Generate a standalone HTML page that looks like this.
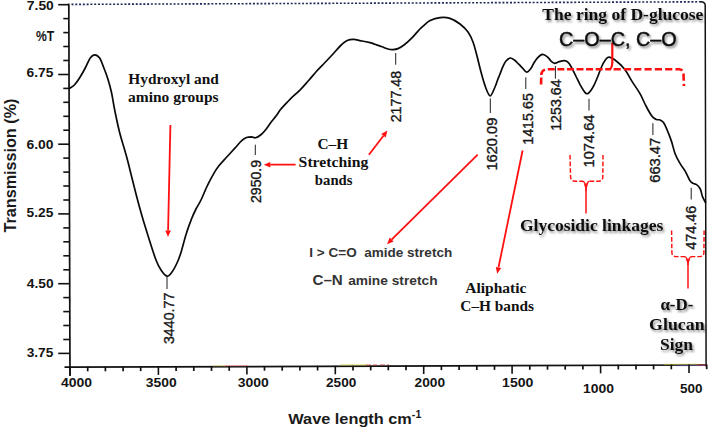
<!DOCTYPE html>
<html><head><meta charset="utf-8"><style>
html,body{margin:0;padding:0;background:#fff;}
body{width:708px;height:430px;overflow:hidden;}
svg{display:block;}
</style></head><body>
<svg width="708" height="430" viewBox="0 0 708 430">
<defs><filter id="sh" x="-10%" y="-30%" width="130%" height="180%"><feDropShadow dx="1.5" dy="2" stdDeviation="1.2" flood-color="#000" flood-opacity="0.45"/></filter></defs>
<rect width="708" height="430" fill="#fff"/>
<line x1="71.5" y1="4.4" x2="702.0" y2="1.8" stroke="#1a2858" stroke-width="1.60" stroke-dasharray="2 1.78"/>
<path d="M700.5,1.8 Q705.2,1.9 705.2,5.5 L706.1,366.5" fill="none" stroke="#111" stroke-width="1.5"/>
<line x1="68.8" y1="3.4" x2="70.0" y2="376.0" stroke="#111" stroke-width="1.70" />
<line x1="64.5" y1="367.2" x2="707.0" y2="365.0" stroke="#111" stroke-width="1.70" />
<line x1="213.0" y1="365.8" x2="226.0" y2="365.8" stroke="#e8d060" stroke-width="0.90" stroke-opacity="0.65"/>
<line x1="224.0" y1="365.8" x2="248.0" y2="365.7" stroke="#f07070" stroke-width="0.90" stroke-opacity="0.65"/>
<line x1="340.0" y1="364.9" x2="367.0" y2="364.8" stroke="#d4cc20" stroke-width="1.00" stroke-opacity="0.65"/>
<line x1="366.0" y1="364.9" x2="389.0" y2="364.8" stroke="#e03030" stroke-width="1.00" stroke-dasharray="5 2 4 3" stroke-opacity="0.65"/>
<line x1="664.0" y1="364.3" x2="698.0" y2="364.2" stroke="#ccc020" stroke-width="0.90" stroke-opacity="0.65"/>
<line x1="676.5" y1="365.7" x2="705.4" y2="365.5" stroke="#4040c0" stroke-width="0.80" stroke-opacity="0.65"/>
<line x1="697.0" y1="365.0" x2="706.0" y2="365.0" stroke="#e02020" stroke-width="1.00" stroke-opacity="0.65"/>
<line x1="58.2" y1="4.7" x2="68.8" y2="4.7" stroke="#111" stroke-width="1.60" />
<line x1="63.3" y1="18.6" x2="68.8" y2="18.6" stroke="#111" stroke-width="1.60" />
<line x1="63.3" y1="32.6" x2="68.9" y2="32.6" stroke="#111" stroke-width="1.60" />
<line x1="63.3" y1="46.5" x2="68.9" y2="46.5" stroke="#111" stroke-width="1.60" />
<line x1="63.3" y1="60.5" x2="69.0" y2="60.5" stroke="#111" stroke-width="1.60" />
<line x1="58.2" y1="74.5" x2="69.0" y2="74.5" stroke="#111" stroke-width="1.60" />
<line x1="63.3" y1="88.4" x2="69.1" y2="88.4" stroke="#111" stroke-width="1.60" />
<line x1="63.3" y1="102.3" x2="69.1" y2="102.3" stroke="#111" stroke-width="1.60" />
<line x1="63.3" y1="116.3" x2="69.2" y2="116.3" stroke="#111" stroke-width="1.60" />
<line x1="63.3" y1="130.2" x2="69.2" y2="130.2" stroke="#111" stroke-width="1.60" />
<line x1="58.2" y1="144.2" x2="69.3" y2="144.2" stroke="#111" stroke-width="1.60" />
<line x1="63.3" y1="158.1" x2="69.3" y2="158.1" stroke="#111" stroke-width="1.60" />
<line x1="63.3" y1="172.1" x2="69.3" y2="172.1" stroke="#111" stroke-width="1.60" />
<line x1="63.3" y1="186.0" x2="69.4" y2="186.0" stroke="#111" stroke-width="1.60" />
<line x1="63.3" y1="200.0" x2="69.4" y2="200.0" stroke="#111" stroke-width="1.60" />
<line x1="58.2" y1="213.9" x2="69.5" y2="213.9" stroke="#111" stroke-width="1.60" />
<line x1="63.3" y1="227.9" x2="69.5" y2="227.9" stroke="#111" stroke-width="1.60" />
<line x1="63.3" y1="241.8" x2="69.6" y2="241.8" stroke="#111" stroke-width="1.60" />
<line x1="63.3" y1="255.8" x2="69.6" y2="255.8" stroke="#111" stroke-width="1.60" />
<line x1="63.3" y1="269.8" x2="69.7" y2="269.8" stroke="#111" stroke-width="1.60" />
<line x1="58.2" y1="283.7" x2="69.7" y2="283.7" stroke="#111" stroke-width="1.60" />
<line x1="63.3" y1="297.6" x2="69.7" y2="297.6" stroke="#111" stroke-width="1.60" />
<line x1="63.3" y1="311.6" x2="69.8" y2="311.6" stroke="#111" stroke-width="1.60" />
<line x1="63.3" y1="325.5" x2="69.8" y2="325.5" stroke="#111" stroke-width="1.60" />
<line x1="63.3" y1="339.5" x2="69.9" y2="339.5" stroke="#111" stroke-width="1.60" />
<line x1="58.2" y1="353.4" x2="69.9" y2="353.4" stroke="#111" stroke-width="1.60" />
<line x1="70.0" y1="366.7" x2="70.0" y2="375.2" stroke="#111" stroke-width="1.60" />
<line x1="87.7" y1="366.6" x2="87.7" y2="371.3" stroke="#111" stroke-width="1.70" />
<line x1="105.4" y1="366.6" x2="105.4" y2="371.3" stroke="#111" stroke-width="1.70" />
<line x1="123.1" y1="366.5" x2="123.1" y2="371.2" stroke="#111" stroke-width="1.70" />
<line x1="140.7" y1="366.4" x2="140.7" y2="371.1" stroke="#111" stroke-width="1.70" />
<line x1="158.4" y1="366.4" x2="158.4" y2="374.9" stroke="#111" stroke-width="1.60" />
<line x1="176.1" y1="366.3" x2="176.1" y2="371.0" stroke="#111" stroke-width="1.70" />
<line x1="193.8" y1="366.3" x2="193.8" y2="371.0" stroke="#111" stroke-width="1.70" />
<line x1="211.5" y1="366.2" x2="211.5" y2="370.9" stroke="#111" stroke-width="1.70" />
<line x1="229.2" y1="366.1" x2="229.2" y2="370.8" stroke="#111" stroke-width="1.70" />
<line x1="246.9" y1="366.1" x2="246.9" y2="374.6" stroke="#111" stroke-width="1.60" />
<line x1="264.5" y1="366.0" x2="264.5" y2="370.7" stroke="#111" stroke-width="1.70" />
<line x1="282.2" y1="366.0" x2="282.2" y2="370.7" stroke="#111" stroke-width="1.70" />
<line x1="299.9" y1="365.9" x2="299.9" y2="370.6" stroke="#111" stroke-width="1.70" />
<line x1="317.6" y1="365.8" x2="317.6" y2="370.5" stroke="#111" stroke-width="1.70" />
<line x1="335.3" y1="365.8" x2="335.3" y2="374.3" stroke="#111" stroke-width="1.60" />
<line x1="353.0" y1="365.7" x2="353.0" y2="370.4" stroke="#111" stroke-width="1.70" />
<line x1="370.7" y1="365.7" x2="370.7" y2="370.4" stroke="#111" stroke-width="1.70" />
<line x1="388.3" y1="365.6" x2="388.3" y2="370.3" stroke="#111" stroke-width="1.70" />
<line x1="406.0" y1="365.5" x2="406.0" y2="370.2" stroke="#111" stroke-width="1.70" />
<line x1="423.7" y1="365.5" x2="423.7" y2="374.0" stroke="#111" stroke-width="1.60" />
<line x1="441.4" y1="365.4" x2="441.4" y2="370.1" stroke="#111" stroke-width="1.70" />
<line x1="459.1" y1="365.3" x2="459.1" y2="370.0" stroke="#111" stroke-width="1.70" />
<line x1="476.8" y1="365.3" x2="476.8" y2="370.0" stroke="#111" stroke-width="1.70" />
<line x1="494.5" y1="365.2" x2="494.5" y2="369.9" stroke="#111" stroke-width="1.70" />
<line x1="512.1" y1="365.2" x2="512.1" y2="373.7" stroke="#111" stroke-width="1.60" />
<line x1="529.8" y1="365.1" x2="529.8" y2="369.8" stroke="#111" stroke-width="1.70" />
<line x1="547.5" y1="365.0" x2="547.5" y2="369.7" stroke="#111" stroke-width="1.70" />
<line x1="565.2" y1="365.0" x2="565.2" y2="369.7" stroke="#111" stroke-width="1.70" />
<line x1="582.9" y1="364.9" x2="582.9" y2="369.6" stroke="#111" stroke-width="1.70" />
<line x1="600.6" y1="364.9" x2="600.6" y2="373.4" stroke="#111" stroke-width="1.60" />
<line x1="618.3" y1="364.8" x2="618.3" y2="369.5" stroke="#111" stroke-width="1.70" />
<line x1="636.0" y1="364.7" x2="636.0" y2="369.4" stroke="#111" stroke-width="1.70" />
<line x1="653.6" y1="364.7" x2="653.6" y2="369.4" stroke="#111" stroke-width="1.70" />
<line x1="671.3" y1="364.6" x2="671.3" y2="369.3" stroke="#111" stroke-width="1.70" />
<line x1="689.0" y1="364.6" x2="689.0" y2="373.1" stroke="#111" stroke-width="1.60" />
<line x1="706.7" y1="364.5" x2="706.7" y2="369.2" stroke="#111" stroke-width="1.70" />
<text x="26.88" y="10.00" font-family="'Liberation Sans', sans-serif" font-size="12.90" font-weight="bold" fill="#141414" textLength="26.89" lengthAdjust="spacingAndGlyphs" >7.50</text>
<text x="26.52" y="76.50" font-family="'Liberation Sans', sans-serif" font-size="12.90" font-weight="bold" fill="#141414" textLength="26.85" lengthAdjust="spacingAndGlyphs" >6.75</text>
<text x="26.51" y="148.50" font-family="'Liberation Sans', sans-serif" font-size="12.90" font-weight="bold" fill="#141414" textLength="27.06" lengthAdjust="spacingAndGlyphs" >6.00</text>
<text x="26.59" y="216.70" font-family="'Liberation Sans', sans-serif" font-size="12.90" font-weight="bold" fill="#141414" textLength="26.77" lengthAdjust="spacingAndGlyphs" >5.25</text>
<text x="26.79" y="288.40" font-family="'Liberation Sans', sans-serif" font-size="12.90" font-weight="bold" fill="#141414" textLength="26.77" lengthAdjust="spacingAndGlyphs" >4.50</text>
<text x="26.66" y="356.90" font-family="'Liberation Sans', sans-serif" font-size="12.90" font-weight="bold" fill="#141414" textLength="26.70" lengthAdjust="spacingAndGlyphs" >3.75</text>
<text x="35.90" y="40.80" font-family="'Liberation Sans', sans-serif" font-size="13.80" font-weight="bold" fill="#141414" textLength="18.23" lengthAdjust="spacingAndGlyphs" >%T</text>
<text x="60.99" y="387.20" font-family="'Liberation Sans', sans-serif" font-size="13.10" font-weight="bold" fill="#141414" textLength="31.06" lengthAdjust="spacingAndGlyphs" >4000</text>
<text x="145.85" y="387.10" font-family="'Liberation Sans', sans-serif" font-size="13.10" font-weight="bold" fill="#141414" textLength="30.90" lengthAdjust="spacingAndGlyphs" >3500</text>
<text x="237.65" y="387.10" font-family="'Liberation Sans', sans-serif" font-size="13.10" font-weight="bold" fill="#141414" textLength="31.10" lengthAdjust="spacingAndGlyphs" >3000</text>
<text x="326.02" y="387.10" font-family="'Liberation Sans', sans-serif" font-size="13.10" font-weight="bold" fill="#141414" textLength="30.32" lengthAdjust="spacingAndGlyphs" >2500</text>
<text x="414.52" y="387.10" font-family="'Liberation Sans', sans-serif" font-size="13.10" font-weight="bold" fill="#141414" textLength="30.52" lengthAdjust="spacingAndGlyphs" >2000</text>
<text x="502.09" y="387.20" font-family="'Liberation Sans', sans-serif" font-size="13.10" font-weight="bold" fill="#141414" textLength="31.27" lengthAdjust="spacingAndGlyphs" >1500</text>
<text x="583.10" y="393.00" font-family="'Liberation Sans', sans-serif" font-size="13.10" font-weight="bold" fill="#141414" textLength="30.96" lengthAdjust="spacingAndGlyphs" >1000</text>
<text x="680.10" y="392.80" font-family="'Liberation Sans', sans-serif" font-size="13.10" font-weight="bold" fill="#141414" textLength="22.49" lengthAdjust="spacingAndGlyphs" >500</text>
<text transform="translate(15.8,232.5) rotate(-90)" font-family="'Liberation Sans', sans-serif" font-size="16" font-weight="bold" fill="#1a1a1a" textLength="133.9" lengthAdjust="spacingAndGlyphs">Transmission (%)</text>
<text x="288.3" y="423.7" font-family="'Liberation Sans', sans-serif" font-size="15.4" font-weight="bold" fill="#1a1a1a" textLength="133" lengthAdjust="spacingAndGlyphs">Wave length cm<tspan font-size="10" dy="-5.5">-1</tspan></text>
<path d="M69.3,88.5 C70.2,87.9 72.6,86.9 74.4,85.0 C76.2,83.1 78.2,80.2 80.0,77.3 C81.8,74.4 83.8,70.8 85.5,67.5 C87.2,64.2 88.9,59.9 90.4,57.8 C91.9,55.7 93.1,54.8 94.6,54.8 C96.1,54.8 98.0,55.7 99.5,57.8 C101.0,59.9 102.3,64.0 103.7,67.5 C105.1,71.0 106.5,74.5 107.8,78.7 C109.1,82.9 110.4,87.6 111.5,92.5 C112.6,97.4 113.0,101.4 114.3,108.0 C115.6,114.6 117.7,124.8 119.5,132.0 C121.3,139.2 123.6,146.0 125.0,151.0 C126.4,156.0 126.2,154.8 128.0,162.0 C129.8,169.2 133.7,185.0 136.0,194.0 C138.3,203.0 139.7,208.0 142.0,216.0 C144.3,224.0 147.7,234.7 150.0,242.0 C152.3,249.3 154.2,255.3 156.0,260.0 C157.8,264.7 159.2,267.3 161.0,270.0 C162.8,272.7 165.2,275.9 167.0,276.2 C168.8,276.5 170.3,274.2 172.0,272.0 C173.7,269.8 175.5,266.2 177.0,263.0 C178.5,259.8 179.4,257.6 180.9,252.8 C182.4,248.0 184.4,239.6 186.2,234.0 C187.9,228.4 189.8,223.5 191.4,219.3 C193.0,215.1 194.4,212.2 196.0,209.0 C197.6,205.8 199.1,203.9 201.0,200.0 C202.9,196.1 205.3,189.9 207.5,185.4 C209.7,180.9 212.1,176.5 214.0,173.2 C215.9,169.9 217.0,168.2 218.9,165.8 C220.8,163.4 222.7,161.5 225.4,158.5 C228.1,155.5 232.4,150.9 235.1,147.9 C237.8,144.9 239.8,142.3 241.7,140.6 C243.6,138.9 244.9,138.1 246.5,137.5 C248.1,136.9 249.9,136.8 251.4,136.8 C252.9,136.9 253.9,138.2 255.5,137.8 C257.1,137.4 259.4,136.0 261.2,134.5 C263.0,133.0 264.7,131.0 266.3,129.0 C267.9,127.0 269.4,124.5 271.0,122.3 C272.6,120.1 274.4,118.1 276.0,116.0 C277.6,113.9 279.1,111.4 280.5,109.6 C281.9,107.8 282.9,106.9 284.5,105.2 C286.1,103.5 287.4,101.9 290.0,99.3 C292.6,96.7 297.1,92.9 300.2,89.8 C303.3,86.7 305.7,83.8 308.4,80.8 C311.1,77.8 313.6,74.5 316.3,71.5 C319.0,68.5 321.7,65.9 324.5,63.0 C327.3,60.1 330.3,56.9 333.0,54.0 C335.7,51.1 338.3,47.7 340.7,45.5 C343.1,43.3 345.0,41.6 347.2,40.6 C349.4,39.6 351.2,39.3 353.7,39.4 C356.1,39.5 359.2,40.5 361.9,41.0 C364.6,41.5 367.9,42.2 370.0,42.7 C372.1,43.2 372.8,43.5 374.8,44.2 C376.8,44.9 379.8,46.0 382.0,46.8 C384.2,47.6 386.2,48.5 388.0,49.0 C389.8,49.5 391.3,49.7 393.0,49.6 C394.7,49.5 396.2,49.4 398.0,48.6 C399.8,47.8 401.6,46.8 404.0,45.0 C406.4,43.2 409.8,40.2 412.2,37.7 C414.6,35.2 416.9,32.2 418.7,30.3 C420.5,28.4 420.9,27.9 422.8,26.3 C424.7,24.7 427.2,22.1 430.1,20.6 C433.0,19.2 436.7,18.0 440.0,17.6 C443.3,17.2 446.7,17.3 450.0,18.4 C453.3,19.5 457.0,21.7 460.0,24.0 C463.0,26.3 465.8,29.0 468.0,32.0 C470.2,35.0 471.5,38.0 473.0,42.0 C474.5,46.0 475.7,51.0 477.0,56.0 C478.3,61.0 479.6,66.8 481.0,72.0 C482.4,77.2 484.0,83.0 485.5,87.0 C487.0,91.0 488.6,95.8 490.2,95.8 C491.8,95.8 493.8,89.5 495.0,87.0 C496.2,84.5 496.6,82.7 497.4,80.5 C498.2,78.3 499.1,76.3 500.0,74.0 C500.9,71.7 501.9,68.8 502.9,66.7 C503.9,64.6 504.6,62.8 505.8,61.3 C507.0,59.8 508.8,58.2 510.3,58.0 C511.8,57.8 513.3,59.3 514.7,60.3 C516.1,61.3 517.4,62.9 518.7,64.2 C520.0,65.5 521.3,66.9 522.6,68.2 C523.9,69.5 525.3,72.1 526.6,72.2 C527.9,72.3 529.5,70.2 530.6,68.8 C531.8,67.4 532.4,65.5 533.5,63.7 C534.6,61.9 536.0,59.4 537.5,57.8 C539.0,56.2 540.8,54.5 542.4,54.3 C544.0,54.1 545.9,55.6 547.4,56.8 C548.9,58.0 550.1,60.2 551.3,61.3 C552.5,62.4 553.5,63.2 554.8,63.3 C556.1,63.3 557.7,62.0 559.3,61.6 C560.9,61.2 563.0,60.5 564.5,60.7 C566.0,60.9 567.3,61.5 568.6,62.8 C569.9,64.1 570.9,66.5 572.1,68.6 C573.3,70.7 574.2,72.9 575.6,75.6 C577.0,78.3 578.7,82.1 580.2,84.9 C581.8,87.7 583.7,90.9 584.9,92.4 C586.1,93.9 586.5,94.0 587.5,93.7 C588.5,93.4 589.6,92.2 590.7,90.7 C591.8,89.2 593.0,87.2 594.2,84.9 C595.4,82.6 596.5,79.7 597.7,76.7 C598.9,73.7 600.3,69.7 601.5,67.0 C602.7,64.3 603.8,62.1 605.0,60.5 C606.2,58.9 607.1,57.3 608.8,57.2 C610.5,57.1 612.4,58.0 615.0,60.0 C617.6,62.0 621.7,65.4 624.5,69.0 C627.3,72.6 629.4,77.3 632.0,81.4 C634.6,85.5 637.7,89.6 640.0,93.7 C642.3,97.8 644.0,102.2 646.0,106.0 C648.0,109.8 650.3,114.0 652.0,116.3 C653.7,118.5 655.0,118.9 656.4,119.5 C657.8,120.1 658.9,119.4 660.2,120.0 C661.5,120.6 662.8,121.3 664.0,123.2 C665.2,125.1 666.5,128.4 667.7,131.4 C669.0,134.4 670.2,137.6 671.5,141.4 C672.8,145.2 673.7,150.2 675.2,154.0 C676.7,157.8 678.6,161.0 680.3,163.9 C682.0,166.8 683.7,168.7 685.3,171.4 C686.9,174.1 688.5,178.2 689.7,180.2 C691.0,182.2 691.6,182.6 692.8,183.3 C693.9,184.0 695.4,183.7 696.6,184.6 C697.9,185.5 699.3,187.0 700.3,189.0 C701.3,191.0 701.6,194.3 702.5,196.6 C703.4,198.8 705.0,201.5 705.5,202.5" fill="none" stroke="#0a0a0a" stroke-width="1.7" stroke-linejoin="round" stroke-linecap="round"/>
<line x1="167.0" y1="277.0" x2="167.0" y2="289.0" stroke="#1e1e1e" stroke-width="1.00" />
<text transform="translate(174.00,344.07) rotate(-90)" x="0" y="0" font-family="'Liberation Sans', sans-serif" font-size="14.00" font-weight="normal" fill="#151515" textLength="51.48" lengthAdjust="spacingAndGlyphs" stroke="#151515" stroke-width="0.35">3440.77</text>
<line x1="255.3" y1="144.7" x2="255.3" y2="155.0" stroke="#1e1e1e" stroke-width="1.00" />
<text transform="translate(260.80,203.00) rotate(-90)" x="0" y="0" font-family="'Liberation Sans', sans-serif" font-size="14.00" font-weight="normal" fill="#151515" textLength="43.12" lengthAdjust="spacingAndGlyphs" stroke="#151515" stroke-width="0.35">2950.9</text>
<line x1="395.7" y1="53.0" x2="395.7" y2="64.7" stroke="#1e1e1e" stroke-width="1.00" />
<text transform="translate(401.00,122.31) rotate(-90)" x="0" y="0" font-family="'Liberation Sans', sans-serif" font-size="14.00" font-weight="normal" fill="#151515" textLength="51.48" lengthAdjust="spacingAndGlyphs" stroke="#151515" stroke-width="0.35">2177.48</text>
<line x1="490.3" y1="98.4" x2="490.3" y2="113.0" stroke="#1e1e1e" stroke-width="1.00" />
<text transform="translate(496.80,170.60) rotate(-90)" x="0" y="0" font-family="'Liberation Sans', sans-serif" font-size="14.00" font-weight="normal" fill="#151515" textLength="52.96" lengthAdjust="spacingAndGlyphs" stroke="#151515" stroke-width="0.35">1620.09</text>
<line x1="525.8" y1="77.4" x2="525.8" y2="89.0" stroke="#1e1e1e" stroke-width="1.00" />
<text transform="translate(532.60,144.77) rotate(-90)" x="0" y="0" font-family="'Liberation Sans', sans-serif" font-size="14.00" font-weight="normal" fill="#151515" textLength="51.64" lengthAdjust="spacingAndGlyphs" stroke="#151515" stroke-width="0.35">1415.65</text>
<line x1="555.4" y1="66.0" x2="555.4" y2="78.6" stroke="#1e1e1e" stroke-width="1.00" />
<text transform="translate(561.20,130.87) rotate(-90)" x="0" y="0" font-family="'Liberation Sans', sans-serif" font-size="14.00" font-weight="normal" fill="#151515" textLength="51.49" lengthAdjust="spacingAndGlyphs" stroke="#151515" stroke-width="0.35">1253.64</text>
<line x1="589.0" y1="98.8" x2="589.0" y2="110.5" stroke="#1e1e1e" stroke-width="1.00" />
<text transform="translate(594.40,167.40) rotate(-90)" x="0" y="0" font-family="'Liberation Sans', sans-serif" font-size="14.00" font-weight="normal" fill="#151515" textLength="52.83" lengthAdjust="spacingAndGlyphs" stroke="#151515" stroke-width="0.35">1074.64</text>
<line x1="652.9" y1="123.2" x2="652.9" y2="135.1" stroke="#1e1e1e" stroke-width="1.00" />
<text transform="translate(660.20,182.73) rotate(-90)" x="0" y="0" font-family="'Liberation Sans', sans-serif" font-size="14.00" font-weight="normal" fill="#151515" textLength="44.95" lengthAdjust="spacingAndGlyphs" stroke="#151515" stroke-width="0.35">663.47</text>
<line x1="691.2" y1="187.8" x2="691.2" y2="199.5" stroke="#1e1e1e" stroke-width="1.00" />
<text transform="translate(696.30,249.86) rotate(-90)" x="0" y="0" font-family="'Liberation Sans', sans-serif" font-size="14.00" font-weight="normal" fill="#151515" textLength="44.19" lengthAdjust="spacingAndGlyphs" stroke="#151515" stroke-width="0.35">474.46</text>
<line x1="170.4" y1="125.0" x2="168.1" y2="230.5" stroke="#ff1010" stroke-width="1.80" />
<path d="M168.0,237.0 L165.3,230.4 L170.9,230.6 Z" fill="#ff1010"/>
<line x1="295.6" y1="164.6" x2="270.3" y2="164.7" stroke="#ff1010" stroke-width="1.80" />
<path d="M263.8,164.7 L270.3,161.9 L270.3,167.5 Z" fill="#ff1010"/>
<line x1="368.9" y1="154.8" x2="383.5" y2="135.7" stroke="#ff1010" stroke-width="1.80" />
<path d="M387.4,130.5 L385.7,137.4 L381.2,134.0 Z" fill="#ff1010"/>
<line x1="477.7" y1="154.7" x2="391.6" y2="239.6" stroke="#ff1010" stroke-width="1.80" />
<path d="M387.0,244.2 L389.7,237.6 L393.6,241.6 Z" fill="#ff1010"/>
<line x1="522.6" y1="150.5" x2="498.5" y2="267.4" stroke="#ff1010" stroke-width="1.80" />
<path d="M497.2,273.8 L495.8,266.9 L501.3,268.0 Z" fill="#ff1010"/>
<path d="M612.3,42.8 L612.3,62.5 Q612.2,66.5 610.6,69" fill="none" stroke="#ff1010" stroke-width="2.2"/>
<path d="M541,86.6 L541.3,74.5 Q542,69.3 547.5,69.3 L611,69.3" fill="none" stroke="#ff1010" stroke-width="2.6" stroke-dasharray="7 2.57" stroke-dashoffset="-2.1"/>
<path d="M612.6,69.3 L679,69.3 Q683.2,69.5 683.5,74 L683.9,86" fill="none" stroke="#ff1010" stroke-width="2.6" stroke-dasharray="7.2 3.1" stroke-dashoffset="-1"/>
<path d="M570,155 L570.6,177.5 Q571.2,181.2 575,181.2 L582,181.2 Q585.6,181.4 585.9,190.5" fill="none" stroke="#ff1010" stroke-width="1.45" stroke-dasharray="4.6 2"/>
<path d="M603,155 L602.8,177.5 Q602.4,181.2 598.6,181.2 L590,181.2 Q586.4,181.4 586.1,190.5" fill="none" stroke="#ff1010" stroke-width="1.45" stroke-dasharray="4.6 2"/>
<line x1="586.0" y1="189.5" x2="586.0" y2="213.4" stroke="#ff1010" stroke-width="1.50" />
<path d="M582.5,181.2 Q585.6,181.4 585.9,190.5 M589.5,181.2 Q586.4,181.4 586.1,190.5" fill="none" stroke="#ff1010" stroke-width="1.3"/>
<path d="M671.6,230.5 L671.9,253 Q672.4,256.6 676,256.6 L684,256.6 Q687.6,256.8 687.9,265" fill="none" stroke="#ff1010" stroke-width="1.45" stroke-dasharray="4.6 2"/>
<path d="M704.1,230.5 L703.9,253 Q703.5,256.6 700,256.6 L692,256.6 Q688.4,256.8 688.1,265" fill="none" stroke="#ff1010" stroke-width="1.45" stroke-dasharray="4.6 2"/>
<line x1="688.0" y1="264.0" x2="688.0" y2="288.4" stroke="#ff1010" stroke-width="1.50" />
<path d="M684.5,256.6 Q687.6,256.8 687.9,265 M691.5,256.6 Q688.4,256.8 688.1,265" fill="none" stroke="#ff1010" stroke-width="1.3"/>
<text x="128.27" y="84.00" font-family="'Liberation Serif', serif" font-size="14.80" font-weight="bold" fill="#111" textLength="90.58" lengthAdjust="spacingAndGlyphs" >Hydroxyl and</text>
<text x="128.04" y="102.30" font-family="'Liberation Serif', serif" font-size="14.80" font-weight="bold" fill="#111" textLength="90.54" lengthAdjust="spacingAndGlyphs" >amino groups</text>
<text x="317.53" y="148.60" font-family="'Liberation Serif', serif" font-size="14.60" font-weight="bold" fill="#111" textLength="30.67" lengthAdjust="spacingAndGlyphs" >C–H</text>
<text x="298.63" y="167.00" font-family="'Liberation Serif', serif" font-size="14.60" font-weight="bold" fill="#111" textLength="69.64" lengthAdjust="spacingAndGlyphs" >Stretching</text>
<text x="314.88" y="185.10" font-family="'Liberation Serif', serif" font-size="14.60" font-weight="bold" fill="#111" textLength="37.55" lengthAdjust="spacingAndGlyphs" >bands</text>
<text x="465.24" y="292.80" font-family="'Liberation Serif', serif" font-size="14.60" font-weight="bold" fill="#111" textLength="61.24" lengthAdjust="spacingAndGlyphs" >Aliphatic</text>
<text x="460.33" y="311.10" font-family="'Liberation Serif', serif" font-size="14.60" font-weight="bold" fill="#111" textLength="73.71" lengthAdjust="spacingAndGlyphs" >C–H bands</text>
<text x="542.34" y="20.10" font-family="'Liberation Serif', serif" font-size="17.20" font-weight="bold" fill="#111" textLength="161.08" lengthAdjust="spacingAndGlyphs" filter="url(#sh)">The ring of D-glucose</text>
<text x="559.01" y="46.30" font-family="'Liberation Sans', sans-serif" font-size="20.50" font-weight="normal" fill="#111" textLength="117.71" lengthAdjust="spacingAndGlyphs" filter="url(#sh)" stroke="#111" stroke-width="0.45">C–O–C, C–O</text>
<text x="519.92" y="231.00" font-family="'Liberation Serif', serif" font-size="17.60" font-weight="bold" fill="#111" textLength="143.52" lengthAdjust="spacingAndGlyphs" filter="url(#sh)">Glycosidic linkages</text>
<text x="660.41" y="310.30" font-family="'Liberation Serif', serif" font-size="16.50" font-weight="bold" fill="#111" textLength="33.01" lengthAdjust="spacingAndGlyphs" filter="url(#sh)">α-D-</text>
<text x="649.11" y="330.20" font-family="'Liberation Serif', serif" font-size="16.50" font-weight="bold" fill="#111" textLength="55.49" lengthAdjust="spacingAndGlyphs" filter="url(#sh)">Glucan</text>
<text x="660.04" y="350.00" font-family="'Liberation Serif', serif" font-size="16.50" font-weight="bold" fill="#111" textLength="33.03" lengthAdjust="spacingAndGlyphs" filter="url(#sh)">Sign</text>
<text x="309.32" y="256.70" font-family="'Liberation Sans', sans-serif" font-size="12.60" font-weight="bold" fill="#333" textLength="142.89" lengthAdjust="spacingAndGlyphs" xml:space="preserve">I &gt; C=O  amide stretch</text>
<text x="312.49" y="284.70" font-family="'Liberation Sans', sans-serif" font-size="15.40" font-weight="bold" fill="#333" textLength="30.30" lengthAdjust="spacingAndGlyphs" >C–N</text>
<text x="348.19" y="284.70" font-family="'Liberation Sans', sans-serif" font-size="13.00" font-weight="bold" fill="#333" textLength="89.37" lengthAdjust="spacingAndGlyphs" >amine stretch</text>
</svg>
</body></html>
